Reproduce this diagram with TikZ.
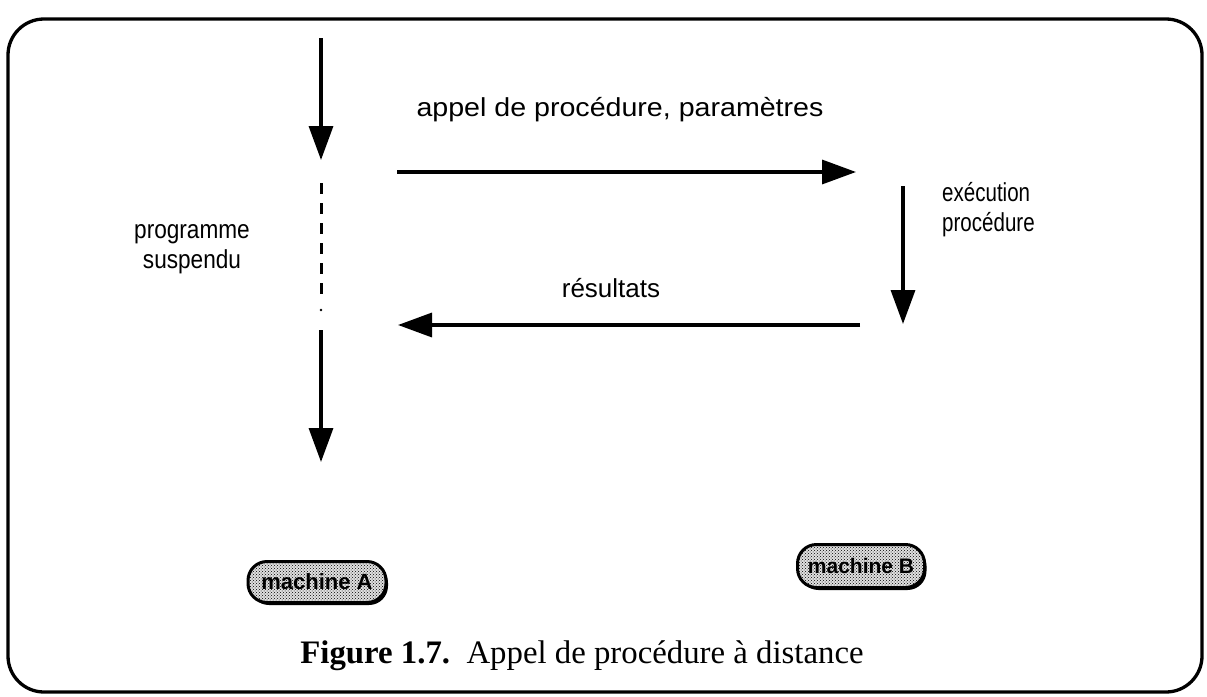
\documentclass[tikz,border=0pt]{standalone}
\usepackage{fontspec}
\setmainfont{Liberation Serif}
\setsansfont{Liberation Sans}
\usetikzlibrary{arrows.meta,patterns,shadows}
\begin{document}
\begin{tikzpicture}[x=1pt,y=-1pt,
  conn/.style={line width=3.4pt,-{Triangle[length=34pt,width=24pt]}},
  lbl/.style={font=\sffamily\fontsize{26}{30}\selectfont,inner sep=0pt},
  machine/.style={draw,line width=3pt,rounded corners=19pt,minimum width=138pt,minimum height=41pt,
    fill=black!12,postaction={pattern=crosshatch dots,pattern color=black},inner sep=0pt,
    drop shadow={shadow xshift=2pt,shadow yshift=-2.5pt,fill=black,opacity=1},
    font=\sffamily\bfseries\fontsize{22}{24}\selectfont},
  pt/.style={inner sep=0pt,outer sep=0pt}]
\useasboundingbox (0,0) rectangle (1207,696);
\draw[line width=3.3pt,rounded corners=36pt] (8,19) rectangle (1202,692);
% left column
\coordinate (a0) at (321,38);
\coordinate (a1) at (321,160);
\coordinate (d0) at (321,183);
\coordinate (d1) at (321,300);
\coordinate (b0) at (321,330);
\coordinate (b1) at (321,462);
\draw[conn] (a0) -- (a1);
\draw[line width=3pt,dash pattern=on 11pt off 9pt] (d0) -- (d1);
\fill (321,310) circle (1.3pt);
\draw[conn] (b0) -- (b1);
\node[lbl] (ps) at (192,247) {\scalebox{0.87}[1]{\begin{tabular}{@{}c@{}}programme\\suspendu\end{tabular}}};
% call arrow
\coordinate (c0) at (397,172);
\coordinate (c1) at (856,172);
\draw[conn] (c0) -- (c1);
\node[lbl] (cl) at (620,110) {\scalebox{1.10}[1]{appel de procédure, paramètres}};
% execution arrow
\coordinate (e0) at (903,186);
\coordinate (e1) at (903,324);
\draw[conn] (e0) -- (e1);
\node[lbl,anchor=west] (el) at (942,210) {\scalebox{0.79}[1]{\begin{tabular}{@{}l@{}}exécution\\procédure\end{tabular}}};
% result arrow
\coordinate (r0) at (860,325);
\coordinate (r1) at (398,325);
\draw[conn] (r0) -- (r1);
\node[lbl] (rl) at (611,288) {résultats};
% machines
\node[machine] (mA) at (317,582) {machine A};
\node[machine,minimum width=127pt,minimum height=43pt,font=\sffamily\bfseries\fontsize{21}{24}\selectfont] (mB) at (861,566) {machine B};
% caption
\node[pt,anchor=base] (cap) at (582,663) {\fontsize{32.8}{36}\selectfont\textbf{Figure 1.7.}\ \ Appel de procédure à distance};
\end{tikzpicture}
\end{document}
